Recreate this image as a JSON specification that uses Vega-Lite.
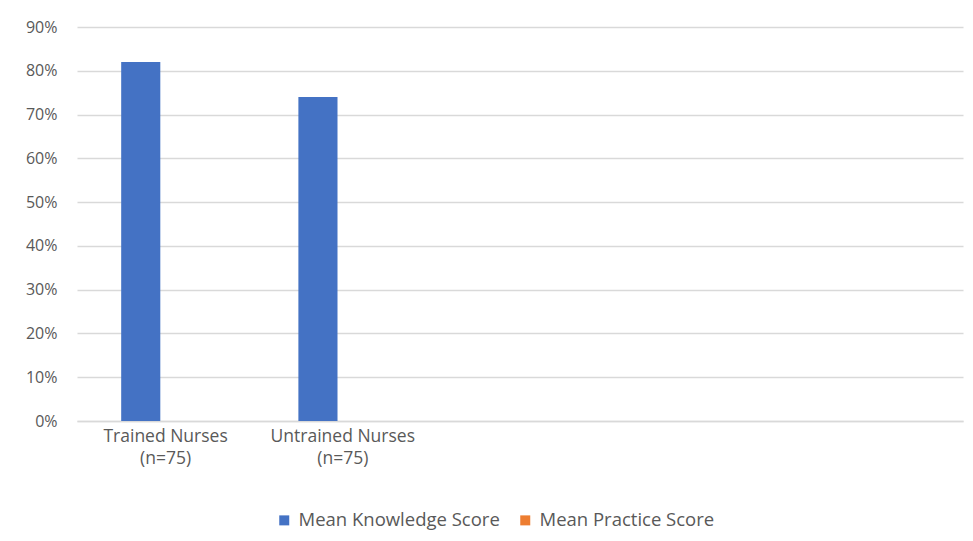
{
  "$schema": "https://vega.github.io/schema/vega-lite/v6.json",
  "width": 886,
  "height": 394,
  "autosize": "none",
  "padding": {"left": 77, "top": 27, "right": 10, "bottom": 120},
  "background": "white",
  "config": {
    "font": "Open Sans",
    "view": {"stroke": null}
  },
  "data": {
    "values": [
      {"group": "Trained Nurses|(n=75)", "series": "Mean Knowledge Score", "score": 0.82},
      {"group": "Untrained Nurses|(n=75)", "series": "Mean Knowledge Score", "score": 0.74}
    ]
  },
  "mark": {"type": "bar"},
  "encoding": {
    "x": {
      "field": "group",
      "type": "nominal",
      "scale": {
        "domain": ["Trained Nurses|(n=75)", "Untrained Nurses|(n=75)", "c3", "c4", "c5"],
        "paddingInner": 0,
        "paddingOuter": 0
      },
      "axis": {
        "title": null,
        "labelAngle": 0,
        "labelExpr": "indexof(datum.label, '|') >= 0 ? split(datum.label, '|') : ''",
        "labelFontSize": 17.5,
        "labelColor": "#595959",
        "labelPadding": 6,
        "labelLineHeight": 22,
        "labelLimit": 300,
        "ticks": false,
        "domainColor": "#d9d9d9",
        "domainWidth": 1.5
      }
    },
    "xOffset": {
      "field": "series",
      "type": "nominal",
      "scale": {"domain": ["Mean Knowledge Score", "Mean Practice Score"], "paddingInner": 0.15, "paddingOuter": 1, "align": 0.48}
    },
    "y": {
      "field": "score",
      "type": "quantitative",
      "scale": {"domain": [0, 0.9], "nice": false},
      "axis": {
        "title": null,
        "values": [0, 0.1, 0.2, 0.3, 0.4, 0.5, 0.6, 0.7, 0.8, 0.9],
        "format": ".0%",
        "labelFontSize": 16,
        "labelColor": "#595959",
        "labelPadding": 20,
        "ticks": false,
        "domain": false,
        "gridColor": "#d9d9d9",
        "gridWidth": 1.5
      }
    },
    "color": {
      "field": "series",
      "type": "nominal",
      "scale": {"domain": ["Mean Knowledge Score", "Mean Practice Score"], "range": ["#4472C4", "#ED7D31"]},
      "legend": {
        "title": null,
        "orient": "none",
        "direction": "horizontal",
        "legendX": 198,
        "legendY": 484,
        "symbolType": "square",
        "symbolSize": 100,
        "symbolStrokeWidth": 0,
        "labelFontSize": 18.5,
        "labelColor": "#595959",
        "labelLimit": 400,
        "columnPadding": 16,
        "labelOffset": 5
      }
    }
  }
}
